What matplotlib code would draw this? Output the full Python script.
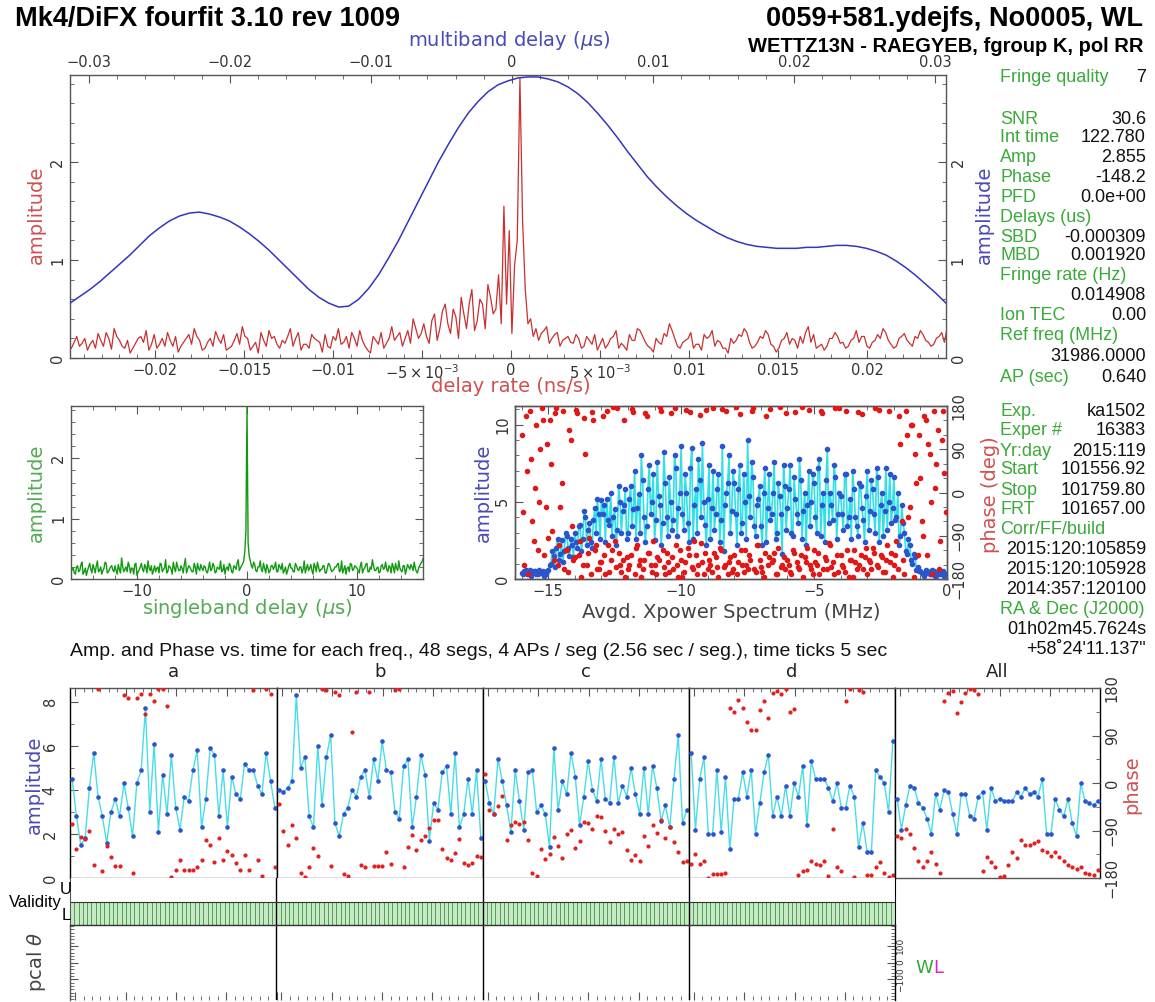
import numpy as np
import matplotlib
matplotlib.use('Agg')
import matplotlib.pyplot as plt
from matplotlib.ticker import MultipleLocator, FixedLocator

W, H = 1155, 1002

# ---------------- data ----------------
# delay rate (ns/s) spectrum: samples on a 0.0003 grid from -0.0247 ...
dr_amp = [0.10, 0.22, 0.15, 0.08, 0.18, 0.25, 0.12, 0.20, 0.30, 0.18, 0.10, 0.05, 0.15, 0.22, 0.28, 0.14, 0.10, 0.20, 0.26, 0.12,
          0.06, 0.16, 0.24, 0.30, 0.18, 0.10, 0.20, 0.27, 0.15, 0.08, 0.12, 0.25, 0.32, 0.20, 0.12, 0.05, 0.18, 0.28, 0.22, 0.10,
          0.15, 0.30, 0.20, 0.08, 0.14, 0.24, 0.18, 0.06, 0.12, 0.22, 0.30, 0.16, 0.10, 0.20, 0.28, 0.12, 0.05, 0.18, 0.26, 0.15,
          0.32, 0.22, 0.12, 0.28, 0.40, 0.20, 0.35, 0.15, 0.45, 0.30, 0.55, 0.25, 0.42, 0.62, 0.30, 0.70, 0.38, 0.55, 0.75, 0.45, 0.85,
          1.55, 1.30, 0.95, 2.855, 0.70, 0.40,
          0.30, 0.25, 0.32, 0.20, 0.26, 0.18, 0.22, 0.15, 0.20, 0.12, 0.18, 0.24, 0.14, 0.10,
          0.20, 0.28, 0.15, 0.08, 0.18, 0.30, 0.22, 0.12, 0.06, 0.16, 0.25, 0.35, 0.20, 0.10, 0.18, 0.26, 0.14, 0.08, 0.20, 0.28,
          0.18, 0.10, 0.05, 0.15, 0.24, 0.30, 0.16, 0.12, 0.22, 0.28, 0.14, 0.06, 0.18, 0.26, 0.20, 0.10, 0.15, 0.32, 0.24, 0.12,
          0.08, 0.20, 0.26, 0.15, 0.10, 0.18, 0.28, 0.22, 0.12, 0.16, 0.24, 0.30, 0.18, 0.10, 0.20, 0.25, 0.15, 0.22, 0.28, 0.18,
          0.12, 0.20, 0.26, 0.30]
# ... and the samples half-way between them
dr_mid = [0.16, 0.12, 0.20, 0.14, 0.10, 0.18, 0.26, 0.09, 0.22, 0.12, 0.18, 0.10, 0.20, 0.16, 0.08, 0.24, 0.14, 0.12, 0.18, 0.22,
          0.12, 0.20, 0.14, 0.22, 0.08, 0.16, 0.12, 0.20, 0.24, 0.10, 0.18, 0.14, 0.22, 0.08, 0.16, 0.26, 0.12, 0.20, 0.14, 0.18,
          0.22, 0.12, 0.26, 0.14, 0.10, 0.20, 0.16, 0.24, 0.10, 0.18, 0.14, 0.22, 0.26, 0.12, 0.18, 0.08, 0.22, 0.14, 0.10, 0.20,
          0.18, 0.26, 0.20, 0.15, 0.30, 0.25, 0.22, 0.38, 0.18, 0.48, 0.35, 0.50, 0.20, 0.45, 0.55, 0.28, 0.60, 0.30, 0.62, 0.50,
          0.35, 0.55, 0.25, 1.20, 1.40, 0.35, 0.22,
          0.18, 0.28, 0.15, 0.24, 0.12, 0.20, 0.16, 0.24, 0.10, 0.22, 0.14, 0.08, 0.20,
          0.14, 0.22, 0.10, 0.12, 0.24, 0.18, 0.28, 0.16, 0.10, 0.20, 0.14, 0.22, 0.28, 0.12, 0.16, 0.20, 0.10, 0.14, 0.24, 0.22,
          0.12, 0.16, 0.10, 0.20, 0.18, 0.22, 0.26, 0.10, 0.16, 0.20, 0.24, 0.12, 0.10, 0.20, 0.14, 0.18, 0.22, 0.26, 0.16, 0.10,
          0.14, 0.12, 0.20, 0.22, 0.16, 0.12, 0.20, 0.16, 0.22, 0.10, 0.18, 0.20, 0.26, 0.14, 0.12, 0.22, 0.18, 0.12, 0.20, 0.24,
          0.16, 0.14, 0.22, 0.16]

# multiband delay (us) curve, sampled every ~0.0007 us
mbd_amp = [0.56, 0.63, 0.70, 0.78, 0.87, 0.96, 1.05, 1.15, 1.25, 1.33,
           1.40, 1.45, 1.48, 1.49, 1.47, 1.44, 1.40, 1.34, 1.27, 1.19,
           1.10, 1.00, 0.90, 0.80, 0.70, 0.62, 0.56, 0.52, 0.53, 0.60,
           0.71, 0.85, 1.02, 1.20, 1.40, 1.60, 1.80, 2.00, 2.18, 2.35,
           2.50, 2.62, 2.72, 2.79, 2.83, 2.86, 2.87, 2.87, 2.85, 2.82,
           2.77, 2.70, 2.61, 2.50, 2.38, 2.25, 2.11, 1.98, 1.85, 1.74,
           1.64, 1.55, 1.47, 1.40, 1.34, 1.28, 1.23, 1.19, 1.16, 1.14,
           1.13, 1.12, 1.12, 1.12, 1.13, 1.13, 1.14, 1.15, 1.15, 1.14,
           1.12, 1.09, 1.05, 0.99, 0.92, 0.84, 0.75, 0.66, 0.56]
mbd_x = np.linspace(-0.03135, 0.03078, len(mbd_amp))

# singleband delay (us): samples every 0.2 from -16 ...
sbd_amp = [0.10, 0.18, 0.08, 0.22, 0.14, 0.28, 0.12, 0.06, 0.20, 0.16, 0.24, 0.10, 0.30, 0.14, 0.08, 0.18, 0.26, 0.12, 0.20, 0.15,
           0.22, 0.08, 0.16, 0.35, 0.12, 0.20, 0.28, 0.10, 0.18, 0.24, 0.06, 0.15, 0.26, 0.12, 0.20, 0.30, 0.14, 0.08, 0.22, 0.18,
           0.10, 0.25, 0.16, 0.32, 0.12, 0.20, 0.08, 0.18, 0.28, 0.14, 0.22, 0.10, 0.34, 0.16, 0.20, 0.12, 0.26, 0.08, 0.18, 0.24,
           0.14, 0.20, 0.10, 0.28, 0.16, 0.22, 0.12, 0.18, 0.30, 0.14, 0.08, 0.20, 0.26, 0.12, 0.22, 0.16, 0.32, 0.18, 0.25, 0.45,
           2.855,
           0.38, 0.22, 0.28, 0.14, 0.20, 0.30, 0.12, 0.18, 0.24, 0.10, 0.22, 0.16, 0.28, 0.12, 0.20, 0.26, 0.14, 0.08, 0.22, 0.18,
           0.12, 0.26, 0.16, 0.20, 0.10, 0.30, 0.18, 0.14, 0.24, 0.08, 0.20, 0.28, 0.12, 0.16, 0.22, 0.10, 0.26, 0.18, 0.14, 0.20,
           0.24, 0.12, 0.30, 0.16, 0.08, 0.20, 0.26, 0.14, 0.22, 0.18, 0.10, 0.28, 0.16, 0.24, 0.12, 0.20, 0.32, 0.14, 0.18, 0.10,
           0.22, 0.16, 0.28, 0.12, 0.20, 0.26, 0.10, 0.18, 0.30, 0.14, 0.22, 0.08, 0.24, 0.16, 0.20, 0.28, 0.12, 0.18, 0.26, 0.34]
# ... and the samples half-way between them
sbd_mid = [0.16, 0.10, 0.20, 0.12, 0.24, 0.08, 0.18, 0.14, 0.26, 0.10, 0.18, 0.22, 0.12, 0.20, 0.14, 0.28, 0.10, 0.16, 0.22, 0.12,
           0.14, 0.24, 0.10, 0.20, 0.16, 0.12, 0.22, 0.18, 0.08, 0.26, 0.12, 0.20, 0.16, 0.24, 0.10, 0.18, 0.22, 0.14, 0.12, 0.20,
           0.26, 0.12, 0.18, 0.10, 0.22, 0.16, 0.28, 0.12, 0.20, 0.14, 0.18, 0.24, 0.10, 0.22, 0.16, 0.12, 0.20, 0.26, 0.14, 0.18,
           0.22, 0.12, 0.18, 0.14, 0.26, 0.10, 0.20, 0.16, 0.12, 0.24, 0.18, 0.14, 0.22, 0.10, 0.20, 0.26, 0.14, 0.22, 0.30, 0.80,
           0.60, 0.30, 0.18, 0.24, 0.12, 0.20, 0.16, 0.26, 0.10, 0.18, 0.14, 0.22, 0.20, 0.12, 0.24, 0.16, 0.10, 0.20, 0.14, 0.26,
           0.18, 0.12, 0.22, 0.14, 0.20, 0.16, 0.10, 0.24, 0.18, 0.14, 0.26, 0.12, 0.20, 0.16, 0.22, 0.10, 0.18, 0.24, 0.12, 0.16,
           0.20, 0.26, 0.14, 0.10, 0.22, 0.18, 0.12, 0.24, 0.16, 0.20, 0.14, 0.22, 0.10, 0.18, 0.26, 0.12, 0.16, 0.22, 0.14, 0.20,
           0.12, 0.24, 0.18, 0.16, 0.22, 0.10, 0.20, 0.26, 0.14, 0.18, 0.12, 0.22, 0.16, 0.20, 0.24, 0.14, 0.18, 0.10, 0.22, 0.28]

# cross power spectrum, grid step 0.05 MHz from -16 (two interleaved halves)
xp_amp_even = [0.4, 0.5, 0.3, 0.6, 0.4, 0.5, 0.3, 0.4, 0.5, 0.3,
               0.6, 1.0, 1.5, 2.0, 1.2, 2.5, 1.8, 2.8, 1.5, 2.2,
               3.0, 2.0, 3.5, 2.6, 4.0, 3.2, 2.4, 3.8, 3.0, 4.2,
               5.1, 4.8, 5.2, 3.5, 2.8, 4.5, 3.2, 5.0, 4.4, 5.8,
               3.0, 6.0, 4.5, 2.6, 5.5, 8.0, 4.0, 3.4, 7.4, 5.0,
               2.5, 7.6, 4.8, 3.6, 6.2, 2.8, 5.0, 3.8, 7.2, 4.6,
               8.6, 3.2, 5.6, 2.4, 8.5, 4.8, 3.0, 6.4, 8.8, 3.5,
               5.2, 2.6, 7.0, 4.2, 6.8, 3.8, 1.8, 5.6, 8.0, 4.4,
               6.2, 2.2, 7.4, 3.6, 5.0, 9.0, 4.0, 6.6, 2.8, 5.2,
               3.4, 5.6, 2.4, 6.8, 4.2, 7.6, 3.0, 5.4, 1.6, 6.0,
               4.6, 7.4, 2.8, 5.2, 3.6, 6.4, 4.4, 2.2, 7.0, 5.0,
               6.2, 3.0, 7.8, 4.8, 2.4, 8.4, 5.6, 3.8, 6.6, 4.2,
               5.4, 3.2, 6.8, 4.0, 2.6, 5.8, 3.4, 6.2, 4.6, 2.4,
               7.0, 4.4, 5.8, 3.0, 6.6, 4.8, 2.8, 7.2, 5.0, 3.6,
               6.6, 4.0, 2.2, 4.8, 3.0, 1.6, 2.2, 1.0, 1.4, 0.8,
               0.5, 0.3, 0.6, 0.4, 0.3, 0.5, 0.2, 0.4, 0.3, 0.2]
xp_amp_odd = [0.3, 0.6, 0.4, 0.2, 0.5, 0.3, 0.6, 0.4, 0.2, 0.5,
              0.9, 1.8, 0.8, 2.6, 1.6, 1.1, 3.0, 2.0, 2.6, 1.4,
              2.4, 3.4, 1.8, 4.4, 2.2, 3.6, 2.0, 4.6, 5.2, 2.6,
              4.2, 2.4, 3.8, 5.6, 4.0, 2.2, 6.0, 3.0, 4.8, 2.6,
              5.2, 3.4, 7.0, 4.6, 3.0, 6.4, 2.4, 5.8, 4.2, 6.8,
              3.8, 5.4, 2.2, 8.2, 4.0, 6.6, 3.2, 8.0, 2.8, 5.6,
              4.2, 6.8, 3.6, 7.2, 2.6, 5.8, 7.8, 4.0, 5.0, 2.2,
              7.4, 4.6, 3.2, 5.8, 2.4, 8.6, 4.8, 6.2, 3.0, 7.0,
              4.2, 5.8, 3.0, 6.8, 2.6, 5.4, 7.6, 3.4, 4.8, 6.0,
              2.2, 7.2, 4.6, 3.8, 5.6, 2.6, 6.2, 4.2, 7.4, 3.2,
              5.8, 3.0, 6.6, 4.2, 7.8, 2.6, 5.6, 4.8, 3.4, 6.8,
              4.0, 7.2, 2.8, 5.6, 6.4, 3.6, 4.8, 7.4, 2.6, 5.6,
              4.2, 6.8, 3.4, 5.2, 7.0, 4.0, 2.8, 6.0, 3.8, 5.4,
              3.2, 6.4, 4.2, 7.2, 2.4, 5.6, 4.4, 3.2, 6.8, 4.6,
              3.8, 5.6, 2.8, 3.6, 1.8, 2.6, 1.2, 1.6, 0.6, 0.5,
              0.4, 0.2, 0.5, 0.3, 0.6, 0.2, 0.4, 0.3, 0.5, 0.3]
xp_phase_even = [120, -150, 45, 170, -60, 10, -120, 90, 150, -30,
                 -95, 60, -140, 175, -110, 20, -160, -120, 130, -70,
                 -135, 165, -100, -150, 80, -125, -170, 150, -110, -160,
                 -145, -130, 170, -165, -120, -100, 175, -150, -140, -175,
                 -160, -130, 168, -115, -150, -175, -140, 160, -125, -165,
                 -150, -135, 178, -120, -170, -145, 165, -160, -110, -175,
                 -140, -165, 172, -130, -155, -100, -170, 162, -145, -125,
                 -160, -150, 176, -135, -175, -120, -155, 170, -145, -165,
                 -130, -170, 164, -150, -120, -160, -140, 175, -165, -110,
                 -155, -175, 160, -135, -145, -125, -170, 178, -150, -160,
                 -140, -165, -120, 168, -155, -130, -175, -145, 172, -160,
                 -120, -150, -170, 165, -135, -160, -110, -145, 175, -165,
                 -130, -155, 170, -175, -140, -120, -160, -150, 163, -135,
                 -170, -145, -115, 176, -155, -130, -165, -140, 170, -125,
                 -150, -100, 160, -60, -170, 120, -30, 140, 80, -130,
                 30, -90, 150, 100, -20, 170, 60, -160, 110, 40]
xp_phase_odd = [-40, 160, -170, 70, -100, 140, -20, 175, -130, 100,
                150, -80, 165, -150, -30, 170, -120, -165, 110, -140,
                172, -130, -175, 155, -150, -95, 168, -120, -160, -145,
                160, -170, -110, -140, 178, -155, -125, -165, 150, -135,
                -150, 174, -170, -110, -140, -160, 166, -125, -150, -100,
                -170, -140, 170, -155, -125, -165, -135, 175, -150, -120,
                -175, -145, -115, 168, -160, -130, -150, -105, -170, 172,
                -140, -165, -125, -155, -115, 174, -150, -170, -135, -160,
                178, -145, -120, -165, -150, -130, 170, -160, -110, -140,
                -165, -125, -150, 174, -140, -170, -115, -155, -135, 166,
                -150, -170, -125, -145, -160, 178, -135, -115, -150, -170,
                -145, -125, 170, -160, -140, -105, -155, -170, -130, 176,
                -150, -165, -120, -140, -175, -145, 168, -130, -160, -115,
                -140, -160, -125, -150, 172, -135, -165, -110, -145, -175,
                -130, -160, 100, -140, 170, -50, 140, -175, 20, 120,
                -60, 160, -130, 80, -170, 10, 130, -100, 170, -40]

# per-channel amplitude / phase vs time (48 segments each)
channels = ['a', 'b', 'c', 'd', 'All']
amp_a = [4.5, 2.8, 1.5, 1.8, 4.1, 5.7, 3.7, 2.8, 1.6, 3.0, 3.6, 2.8, 4.3, 3.2, 1.9, 4.3, 4.9, 7.7, 3.0, 6.1,
         2.1, 4.7, 2.9, 5.6, 3.2, 2.2, 3.7, 3.5, 4.9, 5.8, 2.3, 3.6, 5.9, 5.6, 2.8, 4.9, 2.3, 4.6, 3.8, 3.6,
         5.2, 4.9, 4.9, 4.2, 3.8, 5.7, 4.4, 3.2]
amp_b = [4.0, 3.9, 4.1, 4.4, 8.3, 5.0, 5.5, 2.8, 2.3, 6.0, 3.3, 5.5, 6.5, 2.5, 1.9, 2.9, 3.2, 4.0, 3.7, 4.6,
         4.9, 3.7, 5.4, 4.4, 6.2, 4.9, 4.8, 3.0, 2.7, 5.1, 5.4, 2.3, 3.7, 5.6, 4.7, 1.7, 3.4, 3.1, 4.8, 5.1,
         2.9, 5.7, 2.3, 2.9, 4.5, 2.9, 4.9, 1.8]
amp_c = [4.4, 3.4, 2.9, 5.4, 4.4, 3.3, 2.1, 4.9, 3.5, 2.2, 4.8, 4.9, 3.0, 3.3, 2.9, 1.4, 5.9, 3.1, 4.4, 3.8,
         5.7, 4.6, 2.4, 3.7, 5.3, 4.0, 3.5, 5.4, 3.6, 3.4, 5.5, 3.4, 4.2, 3.7, 5.0, 3.8, 2.9, 5.0, 2.9, 5.1,
         4.1, 2.6, 3.3, 2.3, 4.5, 6.5, 2.5, 3.1]
amp_d = [5.7, 2.2, 4.5, 5.5, 2.0, 2.0, 4.9, 2.1, 4.6, 1.3, 3.6, 3.6, 4.8, 3.7, 4.9, 2.0, 3.4, 4.8, 5.6, 2.8,
         3.7, 2.8, 4.2, 2.8, 4.3, 3.7, 5.1, 2.4, 5.3, 4.5, 4.5, 4.5, 4.1, 3.5, 4.3, 3.2, 3.2, 4.2, 3.7, 1.4,
         2.5, 1.2, 1.2, 4.9, 4.6, 4.3, 3.0, 6.2]
amp_all = [3.6, 2.2, 3.3, 4.2, 4.1, 3.4, 3.2, 2.7, 2.0, 3.8, 3.1, 4.0, 3.9, 2.9, 2.0, 3.8, 3.8, 2.8, 2.7, 3.7,
           3.9, 2.2, 4.1, 3.5, 3.6, 3.5, 3.5, 3.5, 3.9, 3.7, 4.1, 3.8, 3.9, 3.7, 4.5, 2.0, 2.0, 3.6, 3.1, 2.8,
           3.6, 2.5, 1.9, 4.3, 3.5, 3.4, 3.3, 3.5]
ph_a = [-78, -125, -103, -107, -91, -155, 178, -167, -120, -140, -158, -158, 166, 161, -171, 161, 168, 131, 168, 155,
        179, 178, 146, -179, -164, -145, -164, -165, -164, -160, -145, -108, -118, -150, -105, -145, -128, -137, -152, -164,
        -137, -164, 176, -145, -177, 178, 168, -160]
ph_b = [-39, -90, -118, -79, -105, -171, -179, -160, -123, -138, 178, 176, -157, 173, 166, -173, -177, 97, 173, -155,
        -160, 173, -157, -157, -157, -130, -154, 176, 178, -160, -121, -98, -126, -108, -101, -86, -70, -71, -125, -142,
        -145, -133, -107, -152, -156, -152, -138, -140]
ph_c = [18, -51, -59, -43, -25, -108, -79, -73, -78, -74, -108, -171, -177, -125, -144, -135, -102, -119, -142, -97,
        -89, -124, -110, -74, -76, -88, -62, -65, -90, -111, -88, -97, -93, -127, -145, -136, -147, -100, -120, -80,
        -95, -70, -105, -84, -112, -130, -150, -147]
ph_d = [-153, -135, -153, -147, -180, -172, -172, -172, -171, 143, 135, 158, 143, 116, 100, 100, 138, 156, 124, 170,
        174, 169, 178, 135, 141, -174, -167, -165, -147, -153, -156, -147, -177, -88, -160, -166, 156, 179, -179, 176,
        172, -175, -174, -160, -150, -170, -178, -174]
ph_all = [-100, -105, -88, -96, -124, -147, -160, -147, -131, -153, -170, 156, 170, 175, 132, 153, 170, 179, 177, 168,
          -166, -140, -150, -160, -179, -177, -156, -131, -143, -108, -118, -118, -113, -110, -127, -131, -139, -131, -140, -147,
          -156, -160, -163, -160, -170, -172, -175, -165]
amps = [amp_a, amp_b, amp_c, amp_d, amp_all]
phases = [ph_a, ph_b, ph_c, ph_d, ph_all]
valid_flags = [1] * (48 * 4)

info_rows = [('Fringe quality', '7', 77), ('SNR', '30.6', 119), ('Int time', '122.780', 138),
             ('Amp', '2.855', 158), ('Phase', '-148.2', 178), ('PFD', '0.0e+00', 197),
             ('Delays (us)', '', 217), ('SBD', '-0.000309', 237), ('MBD', '0.001920', 256),
             ('Fringe rate (Hz)', '', 276), ('', '0.014908', 296), ('Ion TEC', '0.00', 316),
             ('Ref freq (MHz)', '', 336), ('', '31986.0000', 356), ('AP (sec)', '0.640', 378),
             ('Exp.', 'ka1502', 411), ('Exper #', '16383', 431), ('Yr:day', '2015:119', 451),
             ('Start', '101556.92', 470), ('Stop', '101759.80', 490), ('FRT', '101657.00', 510),
             ('Corr/FF/build', '', 530), ('', '2015:120:105859', 550), ('', '2015:120:105928', 569),
             ('', '2014:357:120100', 589), ('RA & Dec (J2000)', '', 609),
             ('', '01h02m45.7624s', 629), ('', '+58\u02da24\'11.137"', 649)]


def interleave(a, b):
    out = []
    for i, v in enumerate(a):
        out.append(v)
        if i < len(b):
            out.append(b[i])
    return out


dr_all = interleave(dr_amp, dr_mid)
dr_x = -0.0247 + 0.00015 * np.arange(len(dr_all))
sbd_all = interleave(sbd_amp, sbd_mid)
sbd_x = -16 + 0.1 * np.arange(len(sbd_all))
xp_amp = interleave(xp_amp_even, xp_amp_odd)
xp_phase = interleave(xp_phase_even, xp_phase_odd)
xp_x = -16 + 0.05 * np.arange(len(xp_amp))

# ---------------- drawing ----------------
plt.rcParams['font.family'] = ['DejaVu Sans']
GREEN_T = '#3aaa3a'
RED_L = '#d05050'
BLUE_L = '#4a4ab8'
FRAME = '#555555'
LAB = 14

fig = plt.figure(figsize=(W / 100, H / 100), dpi=100)


def box(l, t, r, b):
    return [l / W, 1 - b / H, (r - l) / W, (b - t) / H]


def ftext(x, y, s, **kw):
    kw.setdefault('va', 'center')
    return fig.text(x / W, 1 - y / H, s, **kw)


def style(ax, size=10.5):
    for s in ax.spines.values():
        s.set_color(FRAME)
        s.set_linewidth(1)
    ax.tick_params(which='both', direction='in', colors='#555555', labelcolor='#333333', labelsize=size)
    ax.tick_params(which='major', length=6)
    ax.tick_params(which='minor', length=3)


def rot_y(ax):
    for lab in ax.get_yticklabels():
        lab.set_rotation(90)
        lab.set_va('center')


# titles
ftext(15, 19, 'Mk4/DiFX fourfit 3.10 rev 1009', fontsize=19.5, fontweight='bold', family='Liberation Sans')
ftext(1143, 19, '0059+581.ydejfs, No0005, WL', fontsize=19.5, fontweight='bold', family='Liberation Sans', ha='right')
ftext(1143, 46, 'WETTZ13N - RAEGYEB, fgroup K, pol RR', fontsize=14.5, fontweight='bold', family='Liberation Sans', ha='right')

# ---- top panel: delay rate + multiband delay ----
ax1 = fig.add_axes(box(70, 75, 946, 358))
style(ax1)
ax1.plot(dr_x, dr_all, color='#c83030', lw=0.9)
ax1.set_xlim(-0.02478, 0.02444)
ax1.set_ylim(0, 2.89)
ax1.set_xticks([-0.02, -0.015, -0.01, -0.005, 0, 0.005, 0.01, 0.015, 0.02])
ax1.set_xticklabels(['\u22120.02', '\u22120.015', '\u22120.01', r'$-5\times10^{-3}$', '0',
                     r'$5\times10^{-3}$', '0.01', '0.015', '0.02'])
ax1.xaxis.set_minor_locator(MultipleLocator(0.001))
ax1.set_yticks([0, 1, 2])
ax1.yaxis.set_minor_locator(MultipleLocator(0.2))
ax1.tick_params(top=False, right=False)
rot_y(ax1)

ax1m = fig.add_axes(box(70, 75, 946, 358), frameon=False)
style(ax1m)
ax1m.patch.set_visible(False)
ax1m.plot(mbd_x, mbd_amp, color='#3535c0', lw=1.1)
ax1m.set_xlim(-0.03135, 0.03078)
ax1m.set_ylim(0, 2.89)
ax1m.xaxis.tick_top()
ax1m.yaxis.tick_right()
ax1m.set_xticks([-0.03, -0.02, -0.01, 0, 0.01, 0.02, 0.03])
ax1m.set_xticklabels(['\u22120.03', '\u22120.02', '\u22120.01', '0', '0.01', '0.02', '0.03'])
ax1m.xaxis.set_minor_locator(MultipleLocator(0.002))
ax1m.set_yticks([0, 1, 2])
ax1m.yaxis.set_minor_locator(MultipleLocator(0.2))
for lab in ax1m.get_yticklabels():
    lab.set_rotation(90)
    lab.set_va('center')

ftext(509, 40, r'multiband delay ($\mu$s)', color=BLUE_L, fontsize=LAB, ha='center')
ftext(511, 387, 'delay rate (ns/s)', color=RED_L, fontsize=LAB, ha='center')
ftext(36, 215, 'amplitude', color=RED_L, fontsize=LAB, rotation=90, ha='center')
ftext(984, 215, 'amplitude', color=BLUE_L, fontsize=LAB, rotation=90, ha='center')

# ---- singleband delay ----
ax2 = fig.add_axes(box(71, 406, 423, 579))
style(ax2)
ax2.plot(sbd_x, sbd_all, color='#109a10', lw=1)
ax2.set_xlim(-16, 16)
ax2.set_ylim(0, 2.87)
ax2.set_xticks([-10, 0, 10])
ax2.set_xticklabels(['\u221210', '0', '10'])
ax2.xaxis.set_minor_locator(MultipleLocator(2))
ax2.set_yticks([0, 1, 2])
ax2.yaxis.set_minor_locator(MultipleLocator(0.2))
ax2.tick_params(which='both', top=True, right=True)
rot_y(ax2)
ftext(247, 609, r'singleband delay ($\mu$s)', color='#55aa55', fontsize=LAB, ha='center')
ftext(36, 493, 'amplitude', color='#55aa55', fontsize=LAB, rotation=90, ha='center')

# ---- cross power spectrum ----
ax3 = fig.add_axes(box(515, 406, 947, 579))
style(ax3)
ax3.plot(xp_x, xp_amp, color='#30e0e8', lw=1.2, zorder=2)
ax3.plot(xp_x, xp_amp, 'o', ms=3, color='#2a55cc', zorder=3)
ax3.set_xlim(-16.25, 0)
ax3.set_ylim(0, 11.2)
ax3.set_xticks([-15, -10, -5, 0])
ax3.set_xticklabels(['\u221215', '\u221210', '\u22125', '0'])
ax3.xaxis.set_minor_locator(MultipleLocator(1))
ax3.set_yticks([0, 5, 10])
ax3.yaxis.set_minor_locator(MultipleLocator(1))
ax3.tick_params(which='both', top=True, right=False)
rot_y(ax3)
ax3p = ax3.twinx()
style(ax3p)
ax3p.plot(xp_x, xp_phase, 'o', ms=3, color='#e01818', zorder=4)
ax3p.set_ylim(-180, 180)
ax3p.set_yticks([-180, -90, 0, 90, 180])
ax3p.set_yticklabels(['\u2212180', '\u221290', '0', '90', '180'])
ax3p.yaxis.set_minor_locator(MultipleLocator(30))
for lab in ax3p.get_yticklabels():
    lab.set_rotation(90)
    lab.set_va('center')
ftext(731, 612, 'Avgd. Xpower Spectrum (MHz)', color='#444444', fontsize=LAB, ha='center')
ftext(483, 493, 'amplitude', color=BLUE_L, fontsize=LAB, rotation=90, ha='center')
ftext(990, 495, 'phase (deg)', color=RED_L, fontsize=LAB, rotation=90, ha='center')

# ---- info panel ----
for label, value, y in info_rows:
    if label:
        ftext(1000, y, label, color=GREEN_T, fontsize=13, family='Liberation Sans')
    if value:
        ftext(1146, y, value, color='#111111', fontsize=13, family='Liberation Sans', ha='right')

# ---- per-channel amp/phase vs time ----
ftext(70, 651, 'Amp. and Phase vs. time for each freq., 48 segs, 4 APs / seg (2.56 sec / seg.), time ticks 5 sec',
      fontsize=14, family='Liberation Sans', color='#111111')
edges = [70, 277, 483, 689, 895, 1100]
t_seg = 1.28 + 2.56 * np.arange(48)
tick_minor = 3.08 + 5 * np.arange(25)
tick_major = 3.08 + 30 * np.arange(5)
for c in range(5):
    a = fig.add_axes(box(edges[c], 688, edges[c + 1], 878))
    style(a)
    a.plot(t_seg, amps[c], color='#48dde6', lw=1, zorder=2)
    a.plot(t_seg, amps[c], 'o', ms=2.3, color='#2a55cc', zorder=3)
    a.set_xlim(0, 122.88)
    a.set_ylim(0, 8.63)
    a.xaxis.tick_top()
    a.xaxis.set_major_locator(FixedLocator(tick_major))
    a.xaxis.set_minor_locator(FixedLocator(tick_minor))
    a.tick_params(axis='x', which='both', labeltop=False, labelbottom=False)
    a.spines['left'].set_color('black')
    a.spines['right'].set_color('black')
    if c == 0:
        a.set_yticks([0, 2, 4, 6, 8])
        a.yaxis.set_minor_locator(MultipleLocator(1))
        a.tick_params(axis='y', pad=9)
        rot_y(a)
    else:
        a.set_yticks([])
    p = a.twinx()
    p.plot(t_seg, phases[c], 'o', ms=2, color='#e02020', zorder=4)
    p.set_ylim(-180, 180)
    for s in p.spines.values():
        s.set_visible(False)
    if c == 4:
        style(p)
        for s in p.spines.values():
            s.set_visible(False)
        p.set_yticks([-180, -90, 0, 90, 180])
        p.set_yticklabels(['\u2212180', '\u221290', '0', '90', '180'])
        p.yaxis.set_minor_locator(MultipleLocator(45))
        for lab in p.get_yticklabels():
            lab.set_rotation(90)
            lab.set_va('center')
    else:
        p.set_yticks([])
    ftext((edges[c] + edges[c + 1]) / 2, 672, channels[c], fontsize=13, ha='center', color='#222222')

ftext(34, 785, 'amplitude', color=BLUE_L, fontsize=LAB, rotation=90, ha='center')
ftext(1132, 785, 'phase', color=RED_L, fontsize=LAB, rotation=90, ha='center')

# ---- validity strip ----
av = fig.add_axes(box(70, 878, 895, 925))
av.bar(np.arange(len(valid_flags)) + 0.5, np.array(valid_flags) * 0.49, width=1,
       color='#c6eac6', edgecolor='#3b8a3b', lw=0.5)
av.set_xlim(0, len(valid_flags))
av.set_ylim(0, 1)
av.set_xticks([])
av.set_yticks([])
for s in ['top', 'bottom']:
    av.spines[s].set_visible(False)
av.spines['left'].set_color(FRAME)
av.spines['right'].set_color('black')
for xb in [48, 96, 144]:
    av.axvline(xb, color='black', lw=1)
av.axhline(0.49, color='#333333', lw=0.8)
ftext(62, 902, 'Validity', fontsize=12, family='Liberation Sans', ha='right')
ftext(66, 889, 'U', fontsize=12, family='Liberation Sans', ha='center')
ftext(66, 916, 'L', fontsize=12, family='Liberation Sans', ha='center')

# ---- pcal panel ----
ap = fig.add_axes(box(70, 925, 895, 1000))
style(ap, size=6.5)
ap.set_xlim(0, 192)
ap.set_ylim(-225, 225)
ap.spines['bottom'].set_visible(False)
ap.spines['right'].set_color('black')
ap.spines['top'].set_color('#333333')
ap.yaxis.tick_right()
ap.set_yticks([-100, 0, 100])
ap.set_yticklabels(['\u2212100', '0', '100'])
ap.yaxis.set_minor_locator(MultipleLocator(20))
ap.tick_params(axis='y', which='both', left=True, right=True, labelleft=False, labelright=True, pad=1)
for lab in ap.get_yticklabels():
    lab.set_rotation(90)
    lab.set_va('center')
pc_major = np.concatenate([tick_major / 2.56 + 48 * c for c in range(4)])
pc_minor = np.concatenate([tick_minor / 2.56 + 48 * c for c in range(4)])
ap.xaxis.set_major_locator(FixedLocator(pc_major))
ap.xaxis.set_minor_locator(FixedLocator(pc_minor))
ap.tick_params(axis='x', which='both', labelbottom=False)
for xb in [48, 96, 144]:
    ap.axvline(xb, color='black', lw=1)
ftext(36, 962, r'pcal $\theta$', color='#444444', fontsize=LAB, rotation=90, ha='center')
ftext(915, 968, 'W', color='#33aa33', fontsize=13)
ftext(933, 968, 'L', color='#dd22cc', fontsize=13)

fig.savefig('out.png', dpi=100)
